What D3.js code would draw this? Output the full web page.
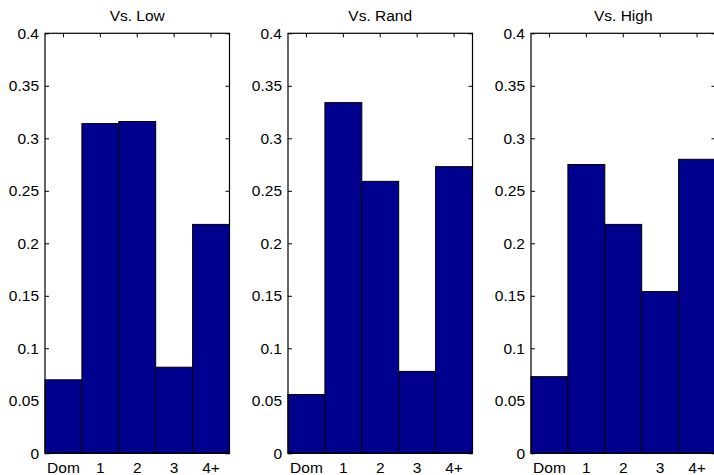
<!DOCTYPE html>
<html>
<head>
<meta charset="utf-8">
<script src="https://cdn.jsdelivr.net/npm/d3@7"></script>
<style>
  html, body { margin: 0; padding: 0; background: #fff; }
  svg { display: block; }
  text { font-family: "Liberation Sans", Arial, Helvetica, sans-serif; }
</style>
</head>
<body>
<svg id="chart" width="714" height="475"></svg>
<script>
const categories = ["Dom", "1", "2", "3", "4+"];
const panelTitles = ["Vs. Low", "Vs. Rand", "Vs. High"];
const valuesLow  = [0.070, 0.314, 0.316, 0.082, 0.218];
const valuesRand = [0.056, 0.334, 0.259, 0.078, 0.273];
const valuesHigh = [0.073, 0.275, 0.218, 0.154, 0.280];
const yTickValues = [0, 0.05, 0.1, 0.15, 0.2, 0.25, 0.3, 0.35, 0.4];
const yTickLabels = ["0", "0.05", "0.1", "0.15", "0.2", "0.25", "0.3", "0.35", "0.4"];

const seriesList = [valuesLow, valuesRand, valuesHigh];
const panelLefts = [45, 288, 531];
const panelW = 184.5, plotTop = 33.3, plotBottom = 453.3;
const panelH = plotBottom - plotTop;
const fontSize = 15.5;
const barColor = "#00008f";

const svg = d3.select("#chart");

seriesList.forEach((vals, i) => {
  const g = svg.append("g").attr("transform", `translate(${panelLefts[i]},${plotTop})`);
  const x = d3.scaleBand().domain(categories).range([0, panelW]).padding(0);
  const y = d3.scaleLinear().domain([0, 0.4]).range([panelH, 0]);

  const ax = [];
  ax.push(g.append("g").call(d3.axisLeft(y).tickValues(yTickValues)
      .tickFormat((d, k) => yTickLabels[k]).tickSizeInner(-4).tickSizeOuter(0).tickPadding(6)));
  ax.push(g.append("g").attr("transform", `translate(${panelW},0)`)
      .call(d3.axisRight(y).tickValues(yTickValues).tickFormat("").tickSizeInner(-4).tickSizeOuter(0)));
  ax.push(g.append("g").call(d3.axisTop(x).tickFormat("").tickSizeInner(-4).tickSizeOuter(0)));
  ax.push(g.append("g").attr("transform", `translate(0,${panelH})`)
      .call(d3.axisBottom(x).tickSizeInner(-4).tickSizeOuter(0).tickPadding(9)));
  ax.forEach(a => {
    a.select(".domain").remove();
    a.selectAll("line").attr("stroke", "#000").attr("stroke-width", 1);
    a.selectAll("text").attr("font-size", fontSize).attr("fill", "#000")
      .style("font-family", '"Liberation Sans", Arial, sans-serif');
  });

  g.selectAll("rect.bar").data(vals).enter().append("rect")
    .attr("class", "bar")
    .attr("x", (d, k) => x(categories[k]))
    .attr("y", d => y(d))
    .attr("width", x.bandwidth())
    .attr("height", d => y(0) - y(d))
    .attr("fill", barColor)
    .attr("stroke", "#000")
    .attr("stroke-width", 1);

  g.append("rect").attr("x", 0).attr("y", 0).attr("width", panelW).attr("height", panelH)
    .attr("fill", "none").attr("stroke", "#000").attr("stroke-width", 1.2);

  g.append("text").attr("x", panelW / 2).attr("y", 20.7 - plotTop)
    .attr("text-anchor", "middle").attr("font-size", fontSize).attr("fill", "#000")
    .text(panelTitles[i]);
});
</script>
</body>
</html>
